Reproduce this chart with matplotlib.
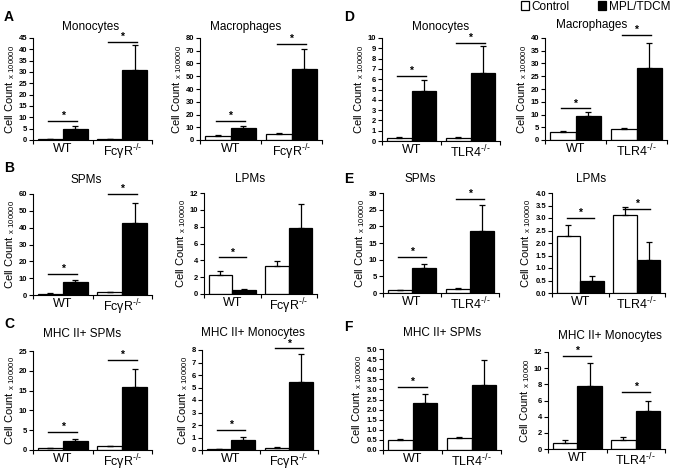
import matplotlib
matplotlib.use('Agg')
import matplotlib.pyplot as plt
from matplotlib.patches import Patch
import numpy as np

plt.rcParams['font.family'] = ['Liberation Sans', 'DejaVu Sans']
plt.rcParams['mathtext.fontset'] = 'custom'
plt.rcParams['mathtext.rm'] = 'Liberation Sans'

# Panels in order: A, A, B, B, C, C, D, D, E, E, F, F
letters = ['A', None, 'B', None, 'C', None, 'D', None, 'E', None, 'F', None]
titles = ['Monocytes', 'Macrophages', 'SPMs', 'LPMs', 'MHC II+ SPMs', 'MHC II+ Monocytes',
          'Monocytes', 'Macrophages', 'SPMs', 'LPMs', 'MHC II+ SPMs', 'MHC II+ Monocytes']
groups_fc = ['WT', 'Fc\u03b3R$^{\\mathregular{\u2010/\u2010}}$']
groups_tlr = ['WT', 'TLR4$^{\\mathregular{\u2010/\u2010}}$']
units = ['100000'] * 11 + ['10000']
y_max = [45, 80, 60, 12, 25, 8, 10, 40, 30, 4.0, 5.0, 12]
y_step = [5, 10, 10, 2, 5, 1, 1, 5, 5, 0.5, 0.5, 2]

ctrl_mean = [[0.3, 0.4], [3.5, 5.0], [0.8, 1.5], [2.3, 3.3], [0.5, 0.9], [0.07, 0.2],
             [0.3, 0.3], [3.3, 4.5], [0.8, 1.2], [2.3, 3.11], [0.5, 0.57], [0.8, 1.12]]
ctrl_err = [[0.15, 0.1], [0.5, 0.7], [0.2, 0.3], [0.45, 0.65], [0.1, 0.2], [0.02, 0.05],
            [0.08, 0.08], [0.4, 0.4], [0.2, 0.2], [0.44, 0.33], [0.04, 0.06], [0.28, 0.35]]
mpl_mean = [[5.0, 31.0], [9.5, 56.0], [7.5, 43.0], [0.5, 7.8], [2.3, 16.0], [0.78, 5.45],
            [4.82, 6.62], [9.4, 28.4], [7.45, 18.6], [0.5, 1.34], [2.35, 3.22], [7.75, 4.72]]
mpl_err = [[1.3, 10.7], [1.5, 15.5], [1.3, 11.5], [0.15, 2.9], [0.5, 4.4], [0.28, 2.2],
           [1.1, 2.6], [1.4, 9.6], [1.25, 7.8], [0.17, 0.7], [0.43, 1.25], [2.9, 1.25]]
# height of the significance bar, None = no star
sig_level = [[8.5, 43.2], [15, 75.5], [12.5, 60], [4.35, None], [4.6, 22.75], [1.6, 8.13],
             [6.3, 9.5], [12.4, 41.3], [10.7, 28.2], [2.99, 3.35], [3.13, None], [11.5, 7.08]]

# axes rectangles in pixels: left, top, right, bottom
W, H = 677, 472
rects = [(33, 38, 152, 140), (200, 38, 322, 140),
         (33, 194, 152, 295), (204, 193, 317, 294),
         (33, 351, 152, 450), (202, 350, 318, 450),
         (382, 38, 500, 141), (545, 38, 667, 140),
         (383, 193, 499, 293), (552, 193, 665, 293),
         (383, 349, 501, 450), (548, 352, 665, 449)]
# title centre in pixels
title_cx = [91, 246, 86, 250, 82, 253, 441, 592, 420, 591, 442, 610]
title_pad = [6, 6, 8, 8, 10, 10, 6, 7, 8, 8, 9, 9]
letter_pos = [(4, 21), None, (4, 172), None, (4, 328), None,
              (344, 21), None, (344, 183), None, (344, 331), None]

fig = plt.figure(figsize=(W / 100, H / 100), dpi=100)

for i in range(12):
        l, t, r, b = rects[i]
        ax = fig.add_axes([l / W, 1 - b / H, (r - l) / W, (b - t) / H])
        x = np.arange(2)
        bw = 0.42
        ek = dict(ecolor='black', elinewidth=0.9, capsize=2.5, capthick=0.9)
        ax.bar(x + 0.29, ctrl_mean[i], width=bw, color='white', edgecolor='black', linewidth=0.9,
               yerr=[[0, 0], ctrl_err[i]], error_kw=ek)
        ax.bar(x + 0.71, mpl_mean[i], width=bw, color='black', edgecolor='black', linewidth=0.9,
               yerr=[[0, 0], mpl_err[i]], error_kw=ek)
        for g in range(2):
                s = sig_level[i][g]
                if s is None:
                        continue
                ax.plot([g + 0.26, g + 0.74], [s, s], color='black', lw=1.0, clip_on=False)
                ax.text(g + 0.5, s, '*', ha='center', va='bottom', fontsize=7.5, fontweight='bold')
        ax.set_xlim(0, 2)
        ax.set_ylim(0, y_max[i])
        ticks = np.arange(0, y_max[i] + y_step[i] / 2, y_step[i])
        ax.set_yticks(ticks)
        if y_step[i] < 1:
                ax.set_yticklabels(['%.1f' % v for v in ticks])
        else:
                ax.set_yticklabels(['%d' % v for v in ticks])
        ax.set_xticks([0, 1, 2])
        ax.set_xticklabels([])
        ax.set_xticks([0.5, 1.5], minor=True)
        ax.set_xticklabels(groups_fc if i < 6 else groups_tlr, minor=True, fontsize=9)
        ax.tick_params(axis='x', which='minor', length=0, pad=2)
        ax.tick_params(axis='x', which='major', length=3, width=0.8)
        ax.tick_params(axis='y', length=3, width=0.8, labelsize=5.5, pad=1.2)
        for lab in ax.get_yticklabels():
                lab.set_fontweight('bold')
        for sp in ['top', 'right']:
                ax.spines[sp].set_visible(False)
        for sp in ['left', 'bottom']:
                ax.spines[sp].set_linewidth(0.8)
        ax.set_title(titles[i], fontsize=8.5, pad=title_pad[i], x=(title_cx[i] - l) / (r - l))
        ax.set_ylabel('Cell Count $\\mathregular{_{x\\ ' + units[i] + '}}$', fontsize=8, labelpad=1.5)
        if letters[i]:
                fig.text(letter_pos[i][0] / W, 1 - letter_pos[i][1] / H, letters[i],
                         fontsize=10, fontweight='bold', ha='left', va='baseline')

handles = [Patch(facecolor='white', edgecolor='black', linewidth=0.9),
           Patch(facecolor='black', edgecolor='black', linewidth=0.9)]
fig.legend(handles, ['Control', 'MPL/TDCM'], loc='upper right', bbox_to_anchor=(1.002, 1.016),
           ncol=2, frameon=False, fontsize=8.5, handlelength=0.7, handleheight=0.7,
           handletextpad=0.2, columnspacing=2.4, borderaxespad=0.3)

fig.savefig('out.png', dpi=100)
